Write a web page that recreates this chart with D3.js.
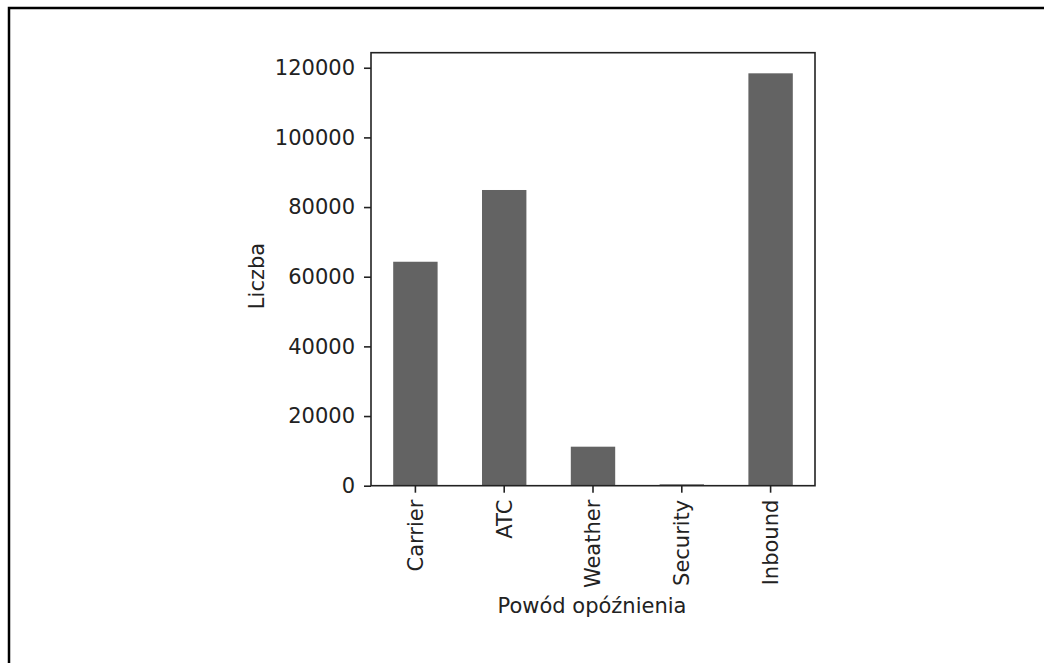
<!DOCTYPE html>
<html>
<head>
<meta charset="utf-8">
<script src="https://cdn.jsdelivr.net/npm/d3@7"></script>
<style>
  body { margin: 0; background: #fff; }
  text { font-family: "DejaVu Sans", sans-serif; fill: #222; }
</style>
</head>
<body>
<svg id="chart"></svg>
<script>
// delay causes and counts
const causes = ["Carrier", "ATC", "Weather", "Security", "Inbound"];
const counts = [64300, 84900, 11200, 400, 118400];
const y_ticks = [0, 20000, 40000, 60000, 80000, 100000, 120000];
const x_title = "Powód opóźnienia";
const y_title = "Liczba";

const W = 1044, H = 663;
const PLOT = {left: 371, right: 815, top: 52.7, bottom: 485.7};
const FONT = 21;

const svg = d3.select("#chart").attr("width", W).attr("height", H);

// page frame (only top and left edges are visible)
svg.append("rect")
  .attr("x", 9).attr("y", 8)
  .attr("width", 1200).attr("height", 800)
  .attr("fill", "none").attr("stroke", "#000").attr("stroke-width", 2.5);

const data = causes.map((c, i) => ({cause: c, count: counts[i]}));

const x = d3.scaleBand()
  .domain(causes)
  .range([PLOT.left, PLOT.right])
  .paddingInner(0.5)
  .paddingOuter(0.25);

const y = d3.scaleLinear()
  .domain([0, d3.max(counts) * 1.05])
  .range([PLOT.bottom, PLOT.top]);

svg.append("g")
  .selectAll("rect")
  .data(data)
  .enter().append("rect")
    .attr("x", d => x(d.cause))
    .attr("width", x.bandwidth())
    .attr("y", d => y(d.count))
    .attr("height", d => PLOT.bottom - y(d.count))
    .attr("fill", "#636363");

// y axis
const y_axis = svg.append("g")
  .attr("transform", "translate(" + PLOT.left + ",0)")
  .call(d3.axisLeft(y).tickValues(y_ticks).tickFormat(d3.format("d")).tickSize(7).tickPadding(9));
y_axis.select(".domain").remove();
y_axis.selectAll("line").attr("stroke", "#222").attr("stroke-width", 1.6);
y_axis.selectAll("text").style("font-size", FONT + "px").attr("fill", "#222");

// x axis with rotated labels
const x_axis = svg.append("g")
  .attr("transform", "translate(0," + PLOT.bottom + ")")
  .call(d3.axisBottom(x).tickSize(7).tickPadding(7));
x_axis.select(".domain").remove();
x_axis.selectAll("line").attr("stroke", "#222").attr("stroke-width", 1.6);
x_axis.selectAll("text")
  .style("font-size", FONT + "px")
  .attr("fill", "#222")
  .attr("text-anchor", "end")
  .attr("transform", "rotate(-90)")
  .attr("x", -14).attr("y", 0).attr("dy", "0.35em");

// spines
svg.append("rect")
  .attr("x", PLOT.left).attr("y", PLOT.top)
  .attr("width", PLOT.right - PLOT.left)
  .attr("height", PLOT.bottom - PLOT.top)
  .attr("fill", "none").attr("stroke", "#222").attr("stroke-width", 1.6);

svg.append("text")
  .attr("x", (PLOT.left + PLOT.right) / 2 - 1).attr("y", 613)
  .attr("text-anchor", "middle")
  .style("font-size", FONT + "px")
  .text(x_title);

svg.append("text")
  .attr("transform", "translate(264,276) rotate(-90)")
  .attr("text-anchor", "middle")
  .style("font-size", FONT + "px")
  .text(y_title);
</script>
</body>
</html>
